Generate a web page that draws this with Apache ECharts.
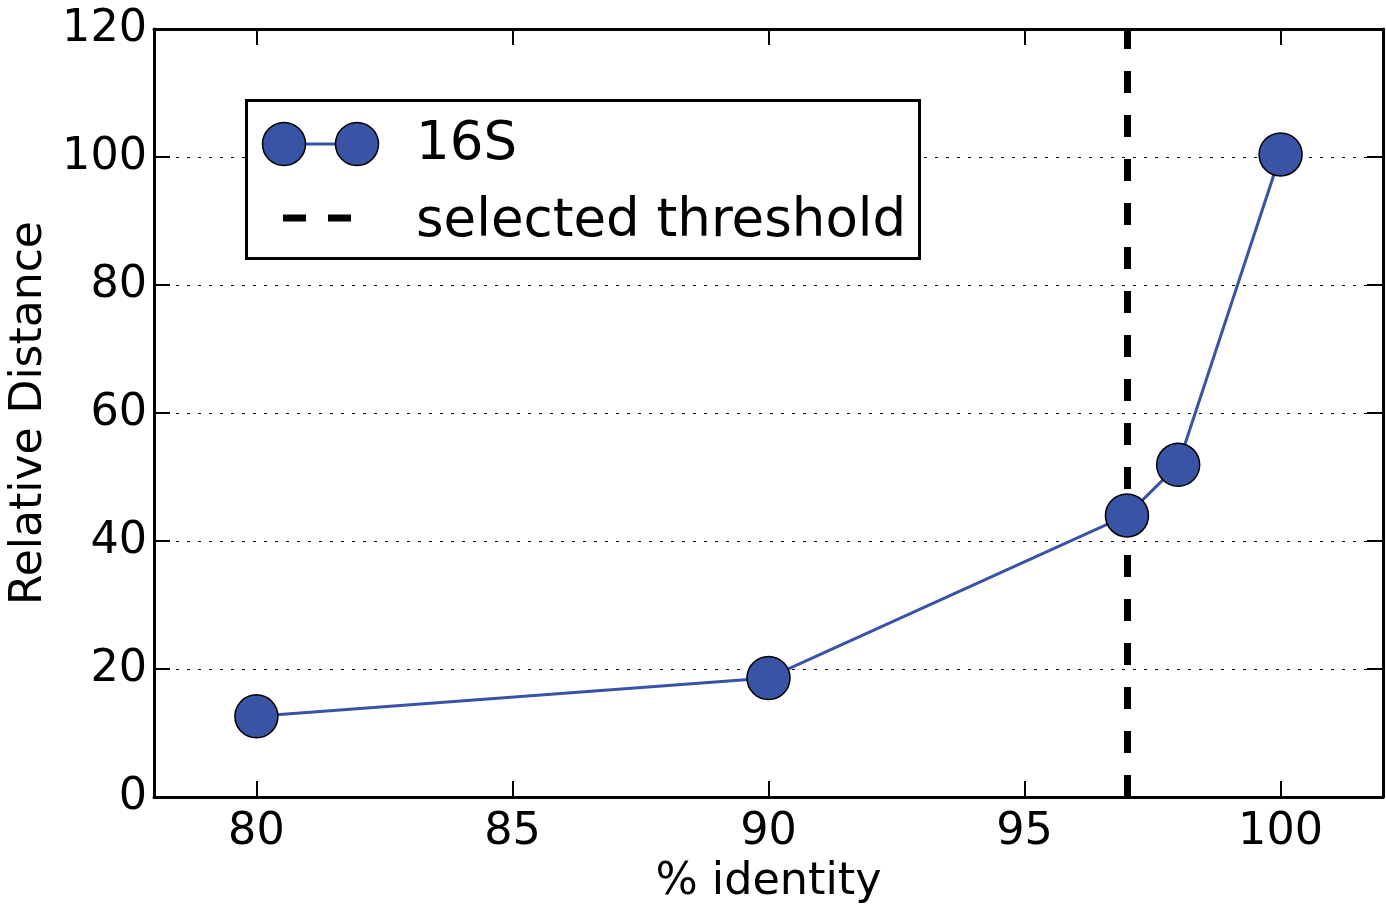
<!DOCTYPE html>
<html>
<head>
<meta charset="utf-8">
<script src="https://cdn.jsdelivr.net/npm/echarts@6/dist/echarts.min.js"></script>
<style>
html,body{margin:0;padding:0;background:#fff;}
#chart{width:1386px;height:907px;}
</style>
</head>
<body>
<div id="chart"></div>
<script>
const identity = [80, 90, 97, 98, 100];
const relDistance = [12.6, 18.6, 44.0, 51.9, 100.4];
const threshold = 97;
const xTicks = [80, 85, 90, 95, 100];
const yTicks = [0, 20, 40, 60, 80, 100, 120];
const seriesName = '16S';
const thresholdName = 'selected threshold';

const FONT = 'DejaVu Sans';
const BLUE = '#3953a5';

const chart = echarts.init(document.getElementById('chart'), null, {renderer: 'canvas'});

const axisLineStyle = {show: true, onZero: false, lineStyle: {color: '#000', width: 3}};
const tickStyle = {show: true, inside: true, length: 16, lineStyle: {color: '#000', width: 2}};

const option = {
  backgroundColor: '#fff',
  animation: false,
  grid: {left: 154, right: 3, top: 29, bottom: 110, containLabel: false, outerBoundsMode: 'none'},
  xAxis: [
    {
      type: 'value', position: 'bottom', min: 78, max: 102,
      name: '% identity', nameLocation: 'middle', nameGap: 63,
      nameTextStyle: {fontFamily: FONT, fontSize: 44.5, color: '#000'},
      axisLine: axisLineStyle,
      axisTick: Object.assign({}, tickStyle, {customValues: xTicks}),
      axisLabel: {customValues: xTicks, fontFamily: FONT, fontSize: 44.5, color: '#000', margin: 13},
      splitLine: {show: false}
    },
    {
      type: 'value', position: 'top', min: 78, max: 102,
      axisLine: axisLineStyle,
      axisTick: Object.assign({}, tickStyle, {customValues: xTicks}),
      axisLabel: {show: false},
      splitLine: {show: false}
    }
  ],
  yAxis: [
    {
      type: 'value', position: 'left', min: 0, max: 120, interval: 20,
      name: 'Relative Distance', nameLocation: 'middle', nameGap: 99, nameRotate: 90,
      nameTextStyle: {fontFamily: FONT, fontSize: 44, color: '#000'},
      axisLine: axisLineStyle,
      axisTick: tickStyle,
      axisLabel: {fontFamily: FONT, fontSize: 44.5, color: '#000', margin: 7,
        formatter: v => yTicks.indexOf(v) >= 0 ? String(v) : ''},
      splitLine: {show: true, lineStyle: {color: '#000', width: 1, type: [3, 8]}}
    },
    {
      type: 'value', position: 'right', min: 0, max: 120, interval: 20,
      axisLine: axisLineStyle,
      axisTick: tickStyle,
      axisLabel: {show: false},
      splitLine: {show: false}
    }
  ],
  series: [
    {
      name: seriesName,
      type: 'line',
      xAxisIndex: 0, yAxisIndex: 0,
      data: identity.map((x, i) => [x, relDistance[i]]),
      symbol: 'circle', symbolSize: 43,
      lineStyle: {color: BLUE, width: 3},
      itemStyle: {color: BLUE, borderColor: '#000', borderWidth: 1.5},
      z: 3,
      markLine: {
        silent: true, symbol: 'none', z: 1,
        label: {show: false},
        lineStyle: {color: '#000', width: 7, type: [22, 22]},
        data: [{xAxis: threshold}]
      }
    }
  ],
  graphic: [
    {type: 'rect', z: 100, shape: {x: 246.5, y: 100.5, width: 673, height: 158},
     style: {fill: '#fff', stroke: '#000', lineWidth: 3}},
    {type: 'line', z: 101, shape: {x1: 284, y1: 144, x2: 357, y2: 144},
     style: {stroke: BLUE, lineWidth: 3}},
    {type: 'circle', z: 102, shape: {cx: 284, cy: 144, r: 21.5},
     style: {fill: BLUE, stroke: '#000', lineWidth: 1.5}},
    {type: 'circle', z: 102, shape: {cx: 357, cy: 144, r: 21.5},
     style: {fill: BLUE, stroke: '#000', lineWidth: 1.5}},
    {type: 'text', z: 102, x: 416, y: 145,
     style: {text: seriesName, font: '53px "DejaVu Sans"', fill: '#000', verticalAlign: 'middle', align: 'left'}},
    {type: 'line', z: 101, shape: {x1: 283, y1: 218, x2: 351, y2: 218},
     style: {stroke: '#000', lineWidth: 7, lineDash: [23, 22]}},
    {type: 'text', z: 102, x: 416, y: 222,
     style: {text: thresholdName, font: '53px "DejaVu Sans"', fill: '#000', verticalAlign: 'middle', align: 'left'}}
  ]
};
chart.setOption(option);
</script>
</body>
</html>
